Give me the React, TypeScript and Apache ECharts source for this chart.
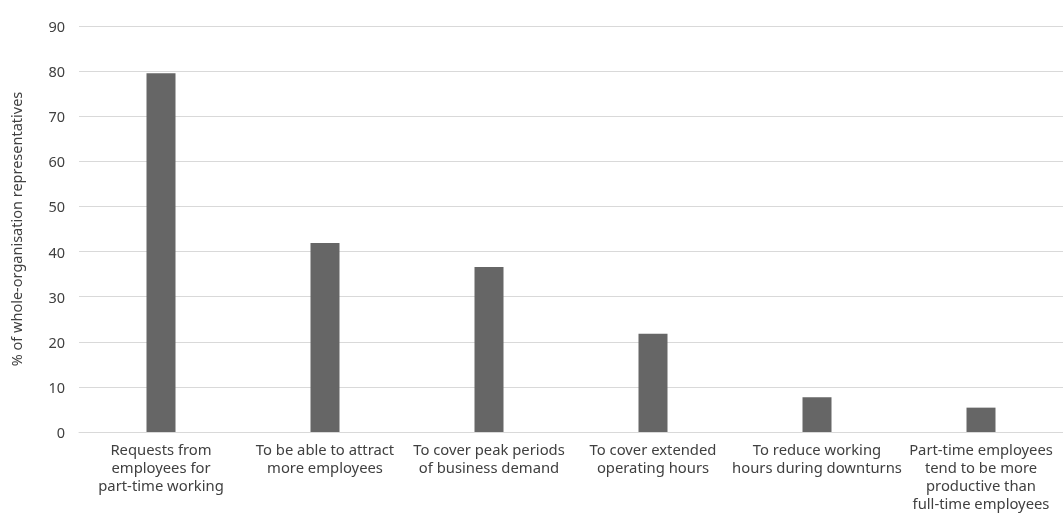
import React, { useEffect, useRef } from "react";
import * as echarts from "echarts";

const categories = [
  "Requests from\nemployees for\npart-time working",
  "To be able to attract\nmore employees",
  "To cover peak periods\nof business demand",
  "To cover extended\noperating hours",
  "To reduce working\nhours during downturns",
  "Part-time employees\ntend to be more\nproductive than\nfull-time employees",
];
const values = [79.5, 41.9, 36.6, 21.8, 7.7, 5.4];
const yAxisName = "% of whole-organisation representatives";

export default function App() {
  const ref = useRef<HTMLDivElement>(null);
  useEffect(() => {
    if (!ref.current) return;
    const chart = echarts.init(ref.current, undefined, { renderer: "svg" });
    const font = "'Noto Sans', 'Liberation Sans', sans-serif";
    chart.setOption({
      animation: false,
      grid: { left: 76, right: 0, top: 26, bottom: 81 },
      xAxis: {
        type: "category",
        data: categories,
        axisLine: { lineStyle: { color: "#d9d9d9", width: 1 } },
        axisTick: { show: false },
        axisLabel: {
          interval: 0,
          color: "#404040",
          fontSize: 14.8,
          fontFamily: font,
          lineHeight: 18,
          margin: 8,
        },
      },
      yAxis: {
        type: "value",
        min: 0,
        max: 90,
        interval: 10,
        name: yAxisName,
        nameLocation: "middle",
        nameGap: 56,
        nameTextStyle: { color: "#404040", fontSize: 14.5, fontFamily: font },
        axisLine: { show: false },
        axisTick: { show: false },
        splitLine: { lineStyle: { color: "#d9d9d9", width: 1 } },
        axisLabel: { color: "#404040", fontSize: 14.5, fontFamily: font, margin: 14 },
      },
      series: [
        {
          type: "bar",
          data: values,
          barWidth: 29,
          itemStyle: { color: "#666666" },
        },
      ],
    });
    return () => chart.dispose();
  }, []);
  return (
    <div
      ref={ref}
      style={{ position: "fixed", left: 0, top: 0, width: 1063, height: 513 }}
    />
  );
}
